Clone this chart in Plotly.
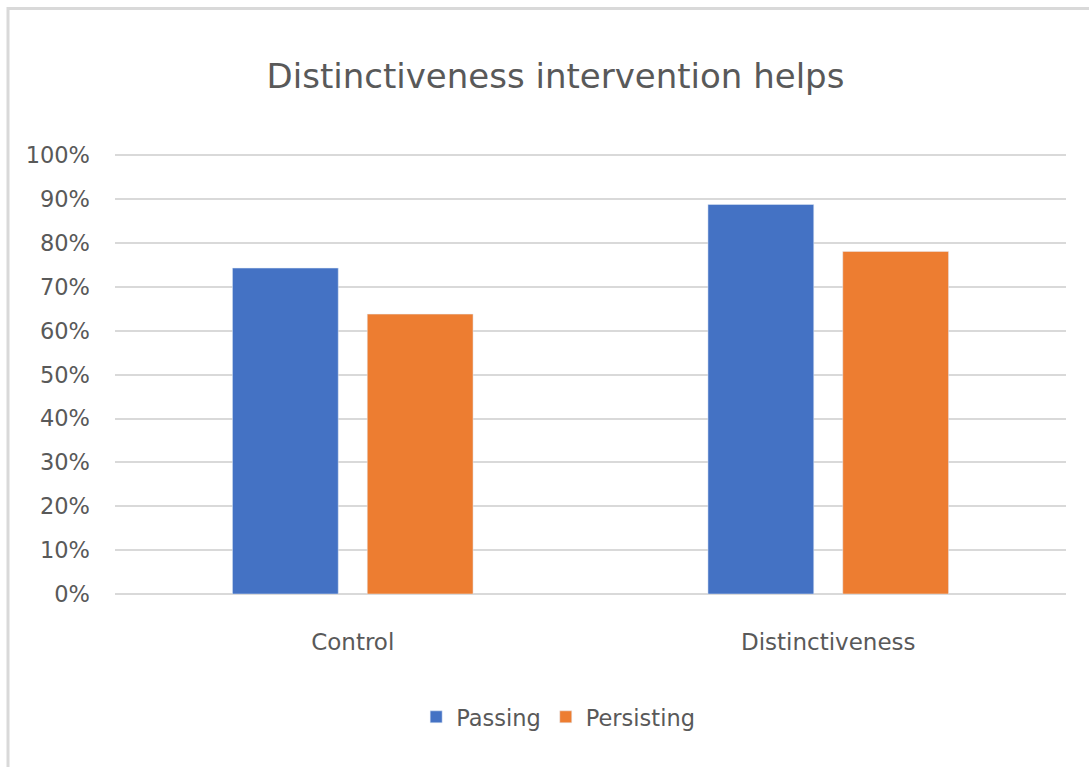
import plotly.graph_objects as go

# Chart data
categories = ["Control", "Distinctiveness"]
passing = [0.743, 0.888]
persisting = [0.638, 0.781]
y_ticks = [0.0, 0.1, 0.2, 0.3, 0.4, 0.5, 0.6, 0.7, 0.8, 0.9, 1.0]
y_tick_labels = ["0%", "10%", "20%", "30%", "40%", "50%", "60%", "70%", "80%", "90%", "100%"]

TEXT = "#595959"
GRID = "#d9d9d9"
FONT = "DejaVu Sans"

fig = go.Figure()
fig.add_trace(go.Bar(name="Passing", x=categories, y=passing, marker_color="#4472C4"))
fig.add_trace(go.Bar(name="Persisting", x=categories, y=persisting, marker_color="#ED7D31"))

fig.update_layout(
    width=1089,
    height=767,
    margin=dict(l=115, r=23, t=154, b=173),
    paper_bgcolor="white",
    plot_bgcolor="white",
    barmode="group",
    bargap=0.433,
    bargroupgap=0.215,
    font=dict(family=FONT, color=TEXT, size=22),
    title=dict(
        text="Distinctiveness intervention helps",
        x=555.5 / 1089, xref="container", xanchor="center",
        y=1 - 76 / 767, yref="container", yanchor="middle",
        font=dict(family=FONT, size=34, color=TEXT),
    ),
    showlegend=True,
    legend=dict(
        orientation="h",
        x=0.466, xanchor="center",
        y=-0.28, yanchor="middle",
        font=dict(family=FONT, size=22.5, color=TEXT),
        itemwidth=30,
    ),
    shapes=[
        dict(type="rect", xref="paper", yref="paper",
             x0=(8 - 115) / 951, x1=1.2, y0=-1.0, y1=1 + (154 - 8.5) / 440,
             line=dict(color=GRID, width=3), layer="below"),
    ],
)

fig.update_xaxes(
    showgrid=False,
    showline=False,
    ticks="",
    ticklabelstandoff=32,
    tickfont=dict(family=FONT, size=23, color=TEXT),
)
fig.update_yaxes(
    range=[0, 1.003],
    tickvals=y_ticks,
    ticktext=y_tick_labels,
    showgrid=True,
    gridcolor=GRID,
    gridwidth=2,
    zeroline=True,
    zerolinecolor=GRID,
    zerolinewidth=2,
    showline=False,
    ticks="",
    ticklabelstandoff=24,
    tickfont=dict(family=FONT, size=22.5, color=TEXT),
)

fig.write_html("out.html")
